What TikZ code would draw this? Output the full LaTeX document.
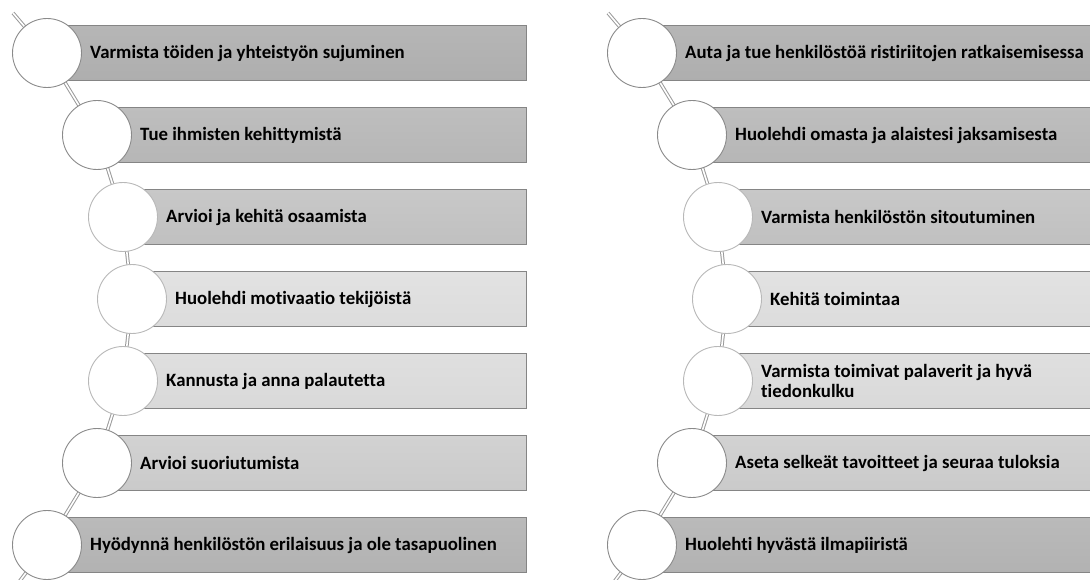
\documentclass[tikz,border=0pt]{standalone}
\usepackage{fontspec}
\setmainfont{Carlito}[Ligatures=CommonOff]
\definecolor{barline}{HTML}{858585}
\definecolor{linkgray}{HTML}{9A9A9A}
\definecolor{ringdark}{HTML}{8A8A8A}
\definecolor{ringlight}{HTML}{B8B8B8}
\definecolor{gAt}{HTML}{AEAEAE}\definecolor{gAb}{HTML}{B6B6B6}
\definecolor{gBt}{HTML}{B6B6B6}\definecolor{gBb}{HTML}{BEBEBE}
\definecolor{gCt}{HTML}{C0C0C0}\definecolor{gCb}{HTML}{C8C8C8}
\definecolor{gDt}{HTML}{DCDCDC}\definecolor{gDb}{HTML}{E2E2E2}
\definecolor{gEt}{HTML}{D9D9D9}\definecolor{gEb}{HTML}{DFDFDF}
\definecolor{gFt}{HTML}{CACACA}\definecolor{gFb}{HTML}{D2D2D2}
\definecolor{gGt}{HTML}{B2B2B2}\definecolor{gGb}{HTML}{BABABA}
\begin{document}
\begin{tikzpicture}[x=1pt,y=-1pt,
  bar/.style={rectangle, draw=barline, line width=0.8pt, minimum height=55pt,
    inner sep=0pt, anchor=west},
  dot/.style={circle, draw=#1, fill=white, line width=0.9pt, minimum size=69pt,
    inner sep=0pt},
  lbl/.style={anchor=west, inner sep=0pt, align=left,
    font=\bfseries\fontsize{18.8}{20.5}\selectfont},
  link/.style={draw=linkgray, line width=1pt, double=white, double distance=1.6pt}]
\useasboundingbox (0,0) rectangle (1090,580);
\clip (0,0) rectangle (1090,580);

% centres of the circles, left column (L) and right column (R)
\foreach \i/\x/\y in {1/47/53,2/97/135,3/123/217,4/132/299,5/123/381,6/97/463,7/47/545}{
  \coordinate (L\i) at (\x,\y);
  \coordinate (R\i) at (\x+595,\y);
}
\coordinate (Ltop) at (13,13);
\coordinate (Lbot) at (19,582);
\coordinate (Rtop) at (608,13);
\coordinate (Rbot) at (614,582);

% the double rail that threads the circles
\draw[link] (Ltop) -- (L1) -- (L2) -- (L3) -- (L4) -- (L5) -- (L6) -- (L7) -- (Lbot);
\draw[link] (Rtop) -- (R1) -- (R2) -- (R3) -- (R4) -- (R5) -- (R6) -- (R7) -- (Rbot);

% shaded bars
\foreach \i/\x/\y/\c in {1/47/53/A,2/97/135/B,3/123/217/C,4/132/299/D,5/123/381/E,6/97/463/F,7/47/545/G}{
  \pgfmathsetmacro{\wl}{526-\x}
  \pgfmathsetmacro{\wr}{1100-(\x+595)}
  \node[bar, minimum width=\wl pt, top color=g\c b, bottom color=g\c t] (LB\i) at (L\i) {};
  \node[bar, minimum width=\wr pt, top color=g\c b, bottom color=g\c t] (RB\i) at (R\i) {};
}

% circles
\foreach \i/\r in {1/ringdark,2/ringdark,3/ringlight,4/ringlight,5/ringlight,6/ringdark,7/ringdark}{
  \node[dot=\r] (LC\i) at (L\i) {};
  \node[dot=\r] (RC\i) at (R\i) {};
}

% labels
\node[lbl] (LT1) at ([xshift=43pt]L1) {Varmista töiden ja yhteistyön sujuminen};
\node[lbl] (LT2) at ([xshift=43pt]L2) {Tue ihmisten kehittymistä};
\node[lbl] (LT3) at ([xshift=43pt]L3) {Arvioi ja kehitä osaamista};
\node[lbl] (LT4) at ([xshift=43pt]L4) {Huolehdi motivaatio tekijöistä};
\node[lbl] (LT5) at ([xshift=43pt]L5) {Kannusta ja anna palautetta};
\node[lbl] (LT6) at ([xshift=43pt]L6) {Arvioi suoriutumista};
\node[lbl] (LT7) at ([xshift=43pt]L7) {Hyödynnä henkilöstön erilaisuus ja ole tasapuolinen};

\node[lbl] (RT1) at ([xshift=43pt]R1) {Auta ja tue henkilöstöä ristiriitojen ratkaisemisessa};
\node[lbl] (RT2) at ([xshift=43pt]R2) {Huolehdi omasta ja alaistesi jaksamisesta};
\node[lbl] (RT3) at ([xshift=43pt]R3) {Varmista henkilöstön sitoutuminen};
\node[lbl] (RT4) at ([xshift=43pt]R4) {Kehitä toimintaa};
\node[lbl] (RT5) at ([xshift=43pt]R5) {Varmista toimivat palaverit ja hyvä\\tiedonkulku};
\node[lbl] (RT6) at ([xshift=43pt]R6) {Aseta selkeät tavoitteet ja seuraa tuloksia};
\node[lbl] (RT7) at ([xshift=43pt]R7) {Huolehti hyvästä ilmapiiristä};
\end{tikzpicture}
\end{document}
